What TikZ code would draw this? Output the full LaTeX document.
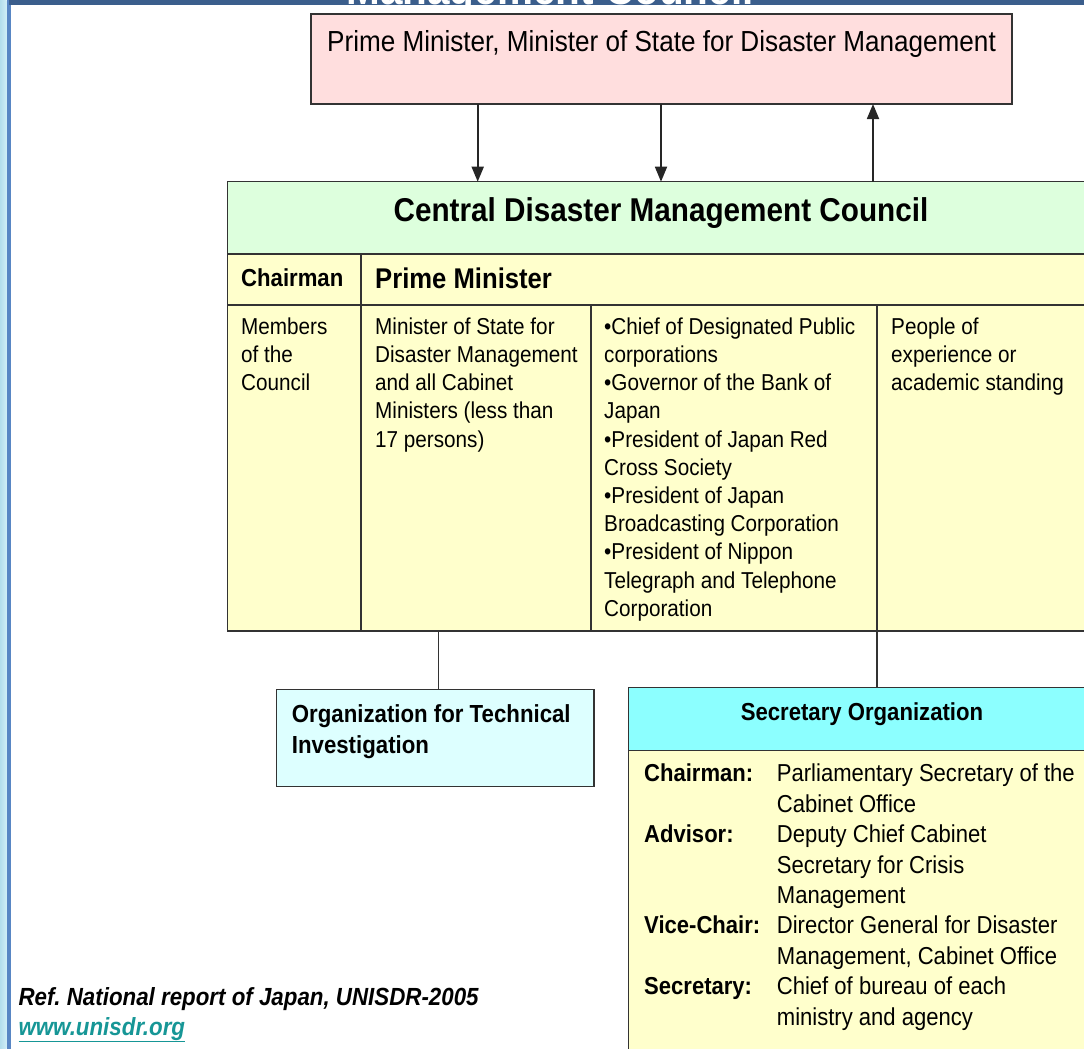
\documentclass[tikz,border=0pt]{standalone}
\usepackage{fontspec}
\setmainfont{Liberation Sans}[FakeStretch=0.9]
\usetikzlibrary{arrows.meta}
\definecolor{bandc}{RGB}{59,94,140}
\definecolor{stripL}{RGB}{180,222,236}
\definecolor{stripR}{RGB}{208,238,247}
\definecolor{stripline}{RGB}{88,134,196}
\definecolor{pinkc}{RGB}{255,222,222}
\definecolor{greenc}{RGB}{221,255,221}
\definecolor{yellowc}{RGB}{255,255,204}
\definecolor{techc}{RGB}{221,255,255}
\definecolor{cyanc}{RGB}{140,255,255}
\definecolor{edgec}{RGB}{51,51,51}
\definecolor{linkc}{RGB}{22,150,150}
\newcommand\fsBody{\fontsize{23}{28.2}\selectfont}
\newcommand\fsSec{\fontsize{24.5}{30.4}\selectfont}
\frenchspacing
\begin{document}
\begin{tikzpicture}[x=1pt,y=-1pt,
  cell/.style={draw=edgec, line width=1.5pt, inner sep=0pt, outer sep=0pt, anchor=north west},
  txt/.style={anchor=north west, inner sep=0pt, align=left},
  lbl/.style={inner sep=0pt},
  arr/.style={line width=1.8pt, draw=black!85, -{Triangle[length=15pt,width=12pt]}},
  conn/.style={line width=1.2pt, draw=edgec}]
\useasboundingbox (0,0) rectangle (1084,1049);
\clip (0,0) rectangle (1084,1049);
% slide frame
\shade[left color=stripL, right color=stripR] (0,0) rectangle (6.5,1049);
\fill[stripline] (6.5,0) rectangle (11,1049);
\fill[bandc] (9,0) rectangle (1084,5.2);
\begin{scope}
  \clip (9,0) rectangle (1084,5.2);
  \node[lbl, anchor=base, text=white, font=\bfseries\fontsize{45}{50}\selectfont] (slidetitle) at (550,4.3) {Management Council};
\end{scope}
% boxes
\node[cell, fill=pinkc, minimum width=701pt, minimum height=90pt] (pm) at (311,14) {};
\node[cell, fill=greenc, minimum width=868pt, minimum height=72.3pt] (hdr) at (227.3,181.7) {};
\node[cell, fill=yellowc, minimum width=133.7pt, minimum height=51pt] (chr) at (227.3,254) {};
\node[cell, fill=yellowc, minimum width=734pt, minimum height=51pt] (pmc) at (361,254) {};
\node[cell, fill=yellowc, minimum width=133.7pt, minimum height=326pt] (m1) at (227.3,305) {};
\node[cell, fill=yellowc, minimum width=230pt, minimum height=326pt] (m2) at (361,305) {};
\node[cell, fill=yellowc, minimum width=286pt, minimum height=326pt] (m3) at (591,305) {};
\node[cell, fill=yellowc, minimum width=218pt, minimum height=326pt] (m4) at (877,305) {};
\node[cell, fill=techc, minimum width=317.3pt, minimum height=97.4pt] (tech) at (276.7,689.3) {};
\node[cell, fill=cyanc, minimum width=468pt, minimum height=63.4pt] (sech) at (628.3,687.3) {};
\node[cell, fill=yellowc, minimum width=468pt, minimum height=320pt] (secb) at (628.3,750.7) {};
% connectors
\coordinate (ax1) at (477.7,0);
\coordinate (ax2) at (661,0);
\coordinate (ax3) at (873,0);
\coordinate (tx) at (438.7,0);
\coordinate (sx) at (877,0);
\draw[arr] (pm.south -| ax1) -- (hdr.north -| ax1);
\draw[arr] (pm.south -| ax2) -- (hdr.north -| ax2);
\draw[arr] (hdr.north -| ax3) -- (pm.south -| ax3);
\draw[conn] (m2.south -| tx) -- (tech.north -| tx);
\draw[conn] (m4.south -| sx) -- (sech.north -| sx);
% texts
\node[lbl, anchor=base, font=\fontsize{29}{34}\selectfont] (pmt) at (661.5,51.7) {Prime Minister, Minister of State for Disaster Management};
\node[lbl, anchor=base, font=\bfseries\fontsize{33}{38}\selectfont] (ttl) at (661,221.7) {Central Disaster Management Council};
\node[lbl, anchor=base west, font=\bfseries\fontsize{24.6}{30}\selectfont] (chl) at (241,286.7) {Chairman};
\node[lbl, anchor=base west, font=\bfseries\fontsize{28.5}{34}\selectfont] (pml) at (375,288.3) {Prime Minister};
\node[txt, font=\fsBody] (t1) at (241,314.26) {\strut Members\\of the\\Council};
\node[txt, font=\fsBody] (t2) at (375,314.26) {\strut Minister of State for\\Disaster Management\\and all Cabinet\\Ministers (less than\\17 persons)};
\node[txt, font=\fsBody] (t3) at (604,314.26) {\strut •Chief of Designated Public\\corporations\\•Governor of the Bank of\\Japan\\•President of Japan Red\\Cross Society\\•President of Japan\\Broadcasting Corporation\\•President of Nippon\\Telegraph and Telephone\\Corporation};
\node[txt, font=\fsBody] (t4) at (891,314.26) {\strut People of\\experience or\\academic standing};
\node[txt, font=\bfseries\fontsize{24.7}{31}\selectfont] (techl) at (291.7,700.6) {\strut Organization for Technical\\Investigation};
\node[lbl, anchor=base, font=\bfseries\fontsize{24.6}{30}\selectfont] (secl) at (862,720.7) {Secretary Organization};
\node[txt, font=\bfseries\fsSec] (slab) at (644,760.4) {\strut Chairman:\\ \strut\\ Advisor:\\ \strut\\ \strut\\ Vice-Chair:\\ \strut\\ Secretary:};
\node[txt, font=\fsSec] (sval) at (776.7,760.4) {\strut Parliamentary Secretary of the\\Cabinet Office\\Deputy Chief Cabinet\\Secretary for Crisis\\Management\\Director General for Disaster\\Management, Cabinet Office\\Chief of bureau of each\\ministry and agency};
\node[lbl, anchor=base west, font=\bfseries\itshape\fontsize{24.8}{30}\selectfont] (ref) at (18.3,1005) {Ref. National report of Japan, UNISDR-2005};
\node[lbl, anchor=base west, text=linkc, font=\bfseries\itshape\fontsize{24.8}{30}\selectfont] (url) at (18.3,1035) {\underline{www.unisdr.org}};
\end{tikzpicture}
\end{document}
